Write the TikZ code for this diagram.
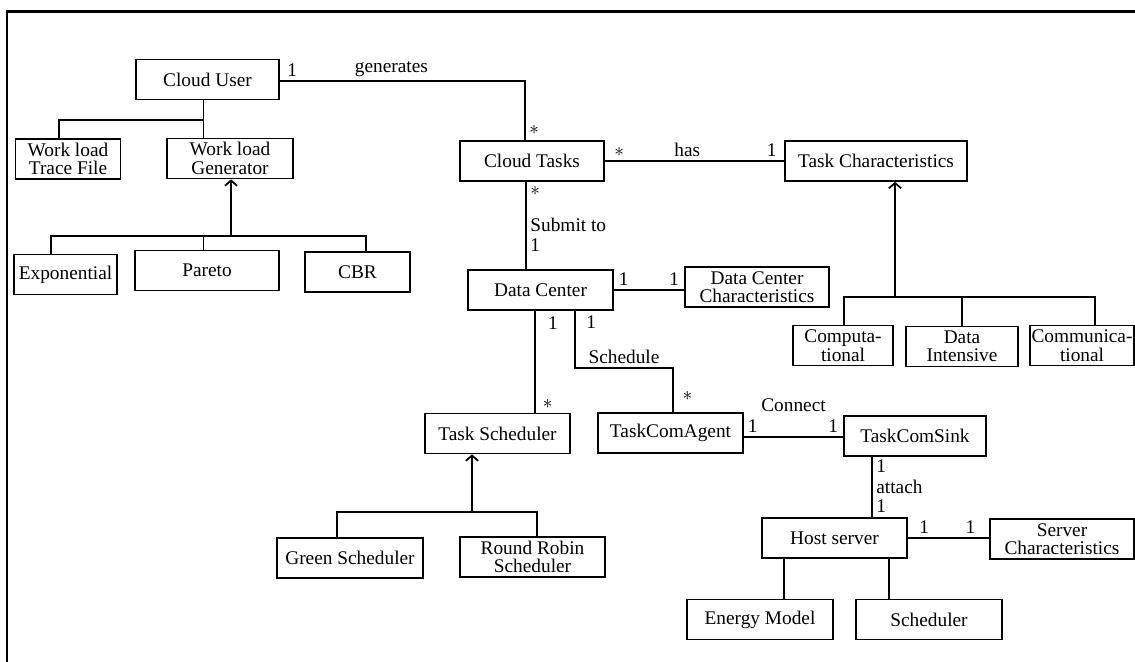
\documentclass[tikz,border=0pt]{standalone}
\usepackage{fontspec}
\setmainfont{Liberation Serif}
\usetikzlibrary{arrows.meta}
\tikzset{
    cls/.style = {draw, fill=white, rectangle, inner sep=0.5pt, align=center,
                  minimum height=0.8cm, font=\fontsize{11}{10.5}\selectfont},
    wd/.style = {minimum width=#1*0.02cm},
    mult/.style = {inner sep=2pt, font=\fontsize{11}{10}\selectfont},
    >={Straight Barb[length=3pt, width=7pt]}
}

\begin{document}
\begin{tikzpicture}[line width=1pt, x=0.02cm, y=-0.02cm]
        \useasboundingbox (0,0) rectangle (1135,662);
        \path[draw, line width=1.6pt] (7,662) -- (7,11.5) -- (1135,11.5);
        % classes
        \node[cls, wd=143] (user) at (207.5,79.5) {Cloud User};
        \node[cls, wd=105] (trace) at (68,159) {Work load\\Trace File};
        \node[cls, wd=126] (gen) at (230,158.5) {Work load\\Generator};
        \node[cls, wd=103] (expo) at (65.5,274.5) {Exponential};
        \node[cls, wd=144] (pareto) at (207,270.5) {Pareto};
        \node[cls, wd=105] (cbr) at (357.5,272) {CBR};
        \node[cls, wd=144] (tasks) at (532,161) {Cloud Tasks};
        \node[cls, wd=182] (tchar) at (876,161) {Task Characteristics};
        \node[cls, wd=145] (dc) at (540.5,290) {Data Center};
        \node[cls, wd=144] (dcc) at (757,287) {Data Center\\Characteristics};
        \node[cls, wd=100] (comp) at (843,345.5) {Computa-\\tional};
        \node[cls, wd=112] (dint) at (962,346.5) {Data\\Intensive};
        \node[cls, wd=104] (comm) at (1082,345.5) {Communica-\\tional};
        \node[cls, wd=145] (tsched) at (497.5,433.5) {Task Scheduler};
        \node[cls, wd=145] (agent) at (670.5,433) {TaskComAgent};
        \node[cls, wd=142] (sink) at (915,436) {TaskComSink};
        \node[cls, wd=146] (green) at (350,558) {Green Scheduler};
        \node[cls, wd=145] (rr) at (532.5,557) {Round Robin\\Scheduler};
        \node[cls, wd=145] (host) at (834.5,538) {Host server};
        \node[cls, wd=144] (schar) at (1062,539) {Server\\Characteristics};
        \node[cls, wd=146] (energy) at (760,619.5) {Energy Model};
        \node[cls, wd=146] (hsched) at (929,619.5) {Scheduler};

        % bends and tree bars
        \coordinate (ub) at (203,120);
        \coordinate (ul) at (59,120);
        \coordinate (gbar) at (231,236);
        \coordinate (gl) at (51,236);
        \coordinate (gm) at (203,236);
        \coordinate (gr) at (366,236);
        \coordinate (ga) at (525,81);
        \coordinate (sub) at (526,225);
        \coordinate (ts) at (535,380);
        \coordinate (sc) at (575,368);
        \coordinate (sd) at (673,368);
        \coordinate (cn) at (794,437);
        \coordinate (at) at (872,487);
        \coordinate (tbar) at (895,297);
        \coordinate (tl) at (844,297);
        \coordinate (tr) at (1095,297);
        \coordinate (sbar) at (472,512);
        \coordinate (sl) at (337,512);
        \coordinate (sr) at (537,512);
        \coordinate (he) at (784,580);
        \coordinate (hs) at (889,580);

        % workload side
        \path[draw, thin] (ub |- user.south) -- (ub |- gen.north);
        \path[draw] (ub) -- (ul) -- (ul |- trace.north);
        \path[draw, ->] (gbar) -- (gbar |- gen.south);
        \path[draw] (gl |- expo.north) -- (gl) -- (gr) -- (gr |- cbr.north);
        \path[draw, thin] (gm) -- (gm |- pareto.north);

        % associations
        \path[draw] (user.east |- ga) -- node[mult, pos=0.05, above] {1} node[mult, pos=0.455, above] {generates}
            (ga) -- node[mult, pos=0.83, right] {$\ast$} (ga |- tasks.north);
        \path[draw] (tasks.east) -- node[mult, pos=0.08, above] {$\ast$} node[mult, pos=0.46, above] {has}
            node[mult, pos=0.93, above] {1} (tchar.west);
        \path[draw] (sub |- tasks.south) -- node[mult, pos=0.1, right] {$\ast$} node[mult, pos=0.49, right] {Submit to}
            node[mult, pos=0.72, right] {1} (sub |- dc.north);
        \path[draw] (dc.east) -- node[mult, pos=0.14, above] {1} node[mult, pos=0.86, above] {1} (dc.east -| dcc.west);
        \path[draw] (ts |- dc.south) -- node[mult, pos=0.12, right=5pt] {1} node[mult, pos=0.92, right=2pt] {$\ast$} (ts |- tsched.north);
        \path[draw] (sc |- dc.south) -- node[mult, pos=0.2, right=4pt] {1} (sc) -- node[mult, midway, above] {Schedule}
            (sd) -- node[mult, pos=0.64, right=3pt] {$\ast$} (sd |- agent.north);
        \path[draw] (agent.east |- cn) -- node[mult, pos=0.09, above] {1} node[mult, midway, above=12pt] {Connect}
            node[mult, pos=0.9, above] {1} (sink.west |- cn);
        \path[draw] (at |- sink.south) -- node[mult, pos=0.16, right] {1} node[mult, pos=0.5, right] {attach}
            node[mult, pos=0.81, right] {1} (at |- host.north);
        \path[draw] (host.east) -- node[mult, pos=0.2, above] {1} node[mult, pos=0.77, above] {1} (host.east -| schar.west);

        % task characteristics
        \path[draw, ->] (tbar) -- (tbar |- tchar.south);
        \path[draw] (tl |- comp.north) -- (tl) -- (tr) -- (tr |- comm.north);
        \path[draw] (dint.north) -- (dint.north |- tl);

        % schedulers
        \path[draw, ->] (sbar) -- (sbar |- tsched.south);
        \path[draw] (sl |- green.north) -- (sl) -- (sr) -- (sr |- rr.north);

        % host server
        \path[draw] (he |- host.south) -- (he |- energy.north);
        \path[draw] (hs |- host.south) -- (hs |- hsched.north);
\end{tikzpicture}
\end{document}
